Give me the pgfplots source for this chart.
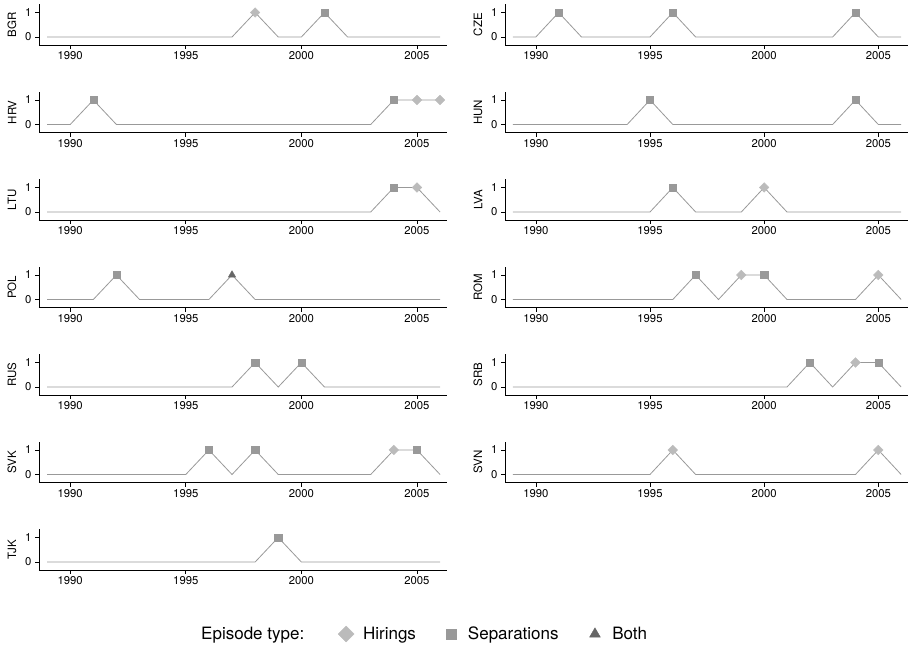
\documentclass[border=0pt]{standalone}
\usepackage{pgfplots}
\pgfplotsset{compat=1.18}
\usepackage{fontspec}
\setmainfont{TeX Gyre Heros}
\definecolor{linegray}{HTML}{999999}
\definecolor{hircol}{HTML}{BBBBBB}
\definecolor{sepcol}{HTML}{999999}
\definecolor{bothcol}{HTML}{666666}
\pgfplotsset{
  panel/.style={
    scale only axis, height=40.7pt,
    xmin=1988.65, xmax=2006.3, ymin=-0.33, ymax=1.33,
    axis x line*=bottom, axis y line*=left,
    axis line style={-, black, line width=0.6pt},
    xtick={1990,1995,2000,2005}, ytick={0,1},
    tick align=outside, major tick length=4pt,
    tick style={black, line width=0.6pt},
    /pgf/number format/1000 sep={},
    /pgf/number format/assume math mode=true,
    tick label style={font=\fontsize{11.3}{13}\selectfont},
    xticklabel style={yshift=1pt},
    ylabel style={font=\fontsize{11.5}{13}\selectfont, yshift=2pt},
    anchor=south west, clip=false,
  },
  ln/.style={color=linegray, line width=0.8pt, mark=none},
  hir/.style={only marks, mark=square*, mark options={rotate=45}, mark size=3.4pt, color=hircol},
  sep/.style={only marks, mark=square*, mark size=3.6pt, color=sepcol},
  both/.style={only marks, mark=triangle*, mark size=4.3pt, color=bothcol},
}
\begin{document}
\begin{tikzpicture}
\useasboundingbox (0pt,0pt) rectangle (914pt,-647pt);
% row 1
\begin{axis}[panel, width=408pt, at={(39pt,-45.1pt)}, ylabel={BGR}]
\addplot[ln] coordinates {(1989,0)(1990,0)(1991,0)(1992,0)(1993,0)(1994,0)(1995,0)(1996,0)(1997,0)(1998,1)(1999,0)(2000,0)(2001,1)(2002,0)(2003,0)(2004,0)(2005,0)(2006,0)};
\addplot[hir] coordinates {(1998,1)};
\addplot[sep] coordinates {(2001,1)};
\end{axis}
\begin{axis}[panel, width=403pt, at={(505pt,-45.1pt)}, ylabel={CZE}]
\addplot[ln] coordinates {(1989,0)(1990,0)(1991,1)(1992,0)(1993,0)(1994,0)(1995,0)(1996,1)(1997,0)(1998,0)(1999,0)(2000,0)(2001,0)(2002,0)(2003,0)(2004,1)(2005,0)(2006,0)};
\addplot[sep] coordinates {(1991,1)(1996,1)(2004,1)};
\end{axis}
% row 2
\begin{axis}[panel, width=408pt, at={(39pt,-132.6pt)}, ylabel={HRV}]
\addplot[ln] coordinates {(1989,0)(1990,0)(1991,1)(1992,0)(1993,0)(1994,0)(1995,0)(1996,0)(1997,0)(1998,0)(1999,0)(2000,0)(2001,0)(2002,0)(2003,0)(2004,1)(2005,1)(2006,1)};
\addplot[sep] coordinates {(1991,1)(2004,1)};
\addplot[hir] coordinates {(2005,1)(2006,1)};
\end{axis}
\begin{axis}[panel, width=403pt, at={(505pt,-132.6pt)}, ylabel={HUN}]
\addplot[ln] coordinates {(1989,0)(1990,0)(1991,0)(1992,0)(1993,0)(1994,0)(1995,1)(1996,0)(1997,0)(1998,0)(1999,0)(2000,0)(2001,0)(2002,0)(2003,0)(2004,1)(2005,0)(2006,0)};
\addplot[sep] coordinates {(1995,1)(2004,1)};
\end{axis}
% row 3
\begin{axis}[panel, width=408pt, at={(39pt,-220.1pt)}, ylabel={LTU}]
\addplot[ln] coordinates {(1989,0)(1990,0)(1991,0)(1992,0)(1993,0)(1994,0)(1995,0)(1996,0)(1997,0)(1998,0)(1999,0)(2000,0)(2001,0)(2002,0)(2003,0)(2004,1)(2005,1)(2006,0)};
\addplot[sep] coordinates {(2004,1)};
\addplot[hir] coordinates {(2005,1)};
\end{axis}
\begin{axis}[panel, width=403pt, at={(505pt,-220.1pt)}, ylabel={LVA}]
\addplot[ln] coordinates {(1989,0)(1990,0)(1991,0)(1992,0)(1993,0)(1994,0)(1995,0)(1996,1)(1997,0)(1998,0)(1999,0)(2000,1)(2001,0)(2002,0)(2003,0)(2004,0)(2005,0)(2006,0)};
\addplot[sep] coordinates {(1996,1)};
\addplot[hir] coordinates {(2000,1)};
\end{axis}
% row 4
\begin{axis}[panel, width=408pt, at={(39pt,-307.6pt)}, ylabel={POL}]
\addplot[ln] coordinates {(1989,0)(1990,0)(1991,0)(1992,1)(1993,0)(1994,0)(1995,0)(1996,0)(1997,1)(1998,0)(1999,0)(2000,0)(2001,0)(2002,0)(2003,0)(2004,0)(2005,0)(2006,0)};
\addplot[sep] coordinates {(1992,1)};
\addplot[both] coordinates {(1997,1)};
\end{axis}
\begin{axis}[panel, width=403pt, at={(505pt,-307.6pt)}, ylabel={ROM}]
\addplot[ln] coordinates {(1989,0)(1990,0)(1991,0)(1992,0)(1993,0)(1994,0)(1995,0)(1996,0)(1997,1)(1998,0)(1999,1)(2000,1)(2001,0)(2002,0)(2003,0)(2004,0)(2005,1)(2006,0)};
\addplot[sep] coordinates {(1997,1)(2000,1)};
\addplot[hir] coordinates {(1999,1)(2005,1)};
\end{axis}
% row 5
\begin{axis}[panel, width=408pt, at={(39pt,-395.1pt)}, ylabel={RUS}]
\addplot[ln] coordinates {(1989,0)(1990,0)(1991,0)(1992,0)(1993,0)(1994,0)(1995,0)(1996,0)(1997,0)(1998,1)(1999,0)(2000,1)(2001,0)(2002,0)(2003,0)(2004,0)(2005,0)(2006,0)};
\addplot[sep] coordinates {(1998,1)(2000,1)};
\end{axis}
\begin{axis}[panel, width=403pt, at={(505pt,-395.1pt)}, ylabel={SRB}]
\addplot[ln] coordinates {(1989,0)(1990,0)(1991,0)(1992,0)(1993,0)(1994,0)(1995,0)(1996,0)(1997,0)(1998,0)(1999,0)(2000,0)(2001,0)(2002,1)(2003,0)(2004,1)(2005,1)(2006,0)};
\addplot[sep] coordinates {(2002,1)(2005,1)};
\addplot[hir] coordinates {(2004,1)};
\end{axis}
% row 6
\begin{axis}[panel, width=408pt, at={(39pt,-482.6pt)}, ylabel={SVK}]
\addplot[ln] coordinates {(1989,0)(1990,0)(1991,0)(1992,0)(1993,0)(1994,0)(1995,0)(1996,1)(1997,0)(1998,1)(1999,0)(2000,0)(2001,0)(2002,0)(2003,0)(2004,1)(2005,1)(2006,0)};
\addplot[sep] coordinates {(1996,1)(1998,1)(2005,1)};
\addplot[hir] coordinates {(2004,1)};
\end{axis}
\begin{axis}[panel, width=403pt, at={(505pt,-482.6pt)}, ylabel={SVN}]
\addplot[ln] coordinates {(1989,0)(1990,0)(1991,0)(1992,0)(1993,0)(1994,0)(1995,0)(1996,1)(1997,0)(1998,0)(1999,0)(2000,0)(2001,0)(2002,0)(2003,0)(2004,0)(2005,1)(2006,0)};
\addplot[hir] coordinates {(1996,1)(2005,1)};
\end{axis}
% row 7
\begin{axis}[panel, width=408pt, at={(39pt,-570.1pt)}, ylabel={TJK},
  legend columns=4,
  legend style={at={(rel axis cs:0.944,-1.57)}, anchor=center, draw=none, fill=none,
    font=\fontsize{17}{19}\selectfont, column sep=0pt},
  legend cell align=left]
\addlegendimage{empty legend}
\addlegendentry{Episode type:\rule{32pt}{0pt}}
\addlegendimage{hir, mark size=5.6pt}
\addlegendentry{\rule{7pt}{0pt}Hirings\rule{28pt}{0pt}}
\addlegendimage{sep, mark size=5pt}
\addlegendentry{\rule{10pt}{0pt}Separations\rule{29pt}{0pt}}
\addlegendimage{both, mark size=6.2pt}
\addlegendentry{\rule{10pt}{0pt}Both}
\addplot[ln, forget plot] coordinates {(1989,0)(1990,0)(1991,0)(1992,0)(1993,0)(1994,0)(1995,0)(1996,0)(1997,0)(1998,0)(1999,1)(2000,0)(2001,0)(2002,0)(2003,0)(2004,0)(2005,0)(2006,0)};
\addplot[sep, forget plot] coordinates {(1999,1)};
\end{axis}
\end{tikzpicture}
\end{document}
